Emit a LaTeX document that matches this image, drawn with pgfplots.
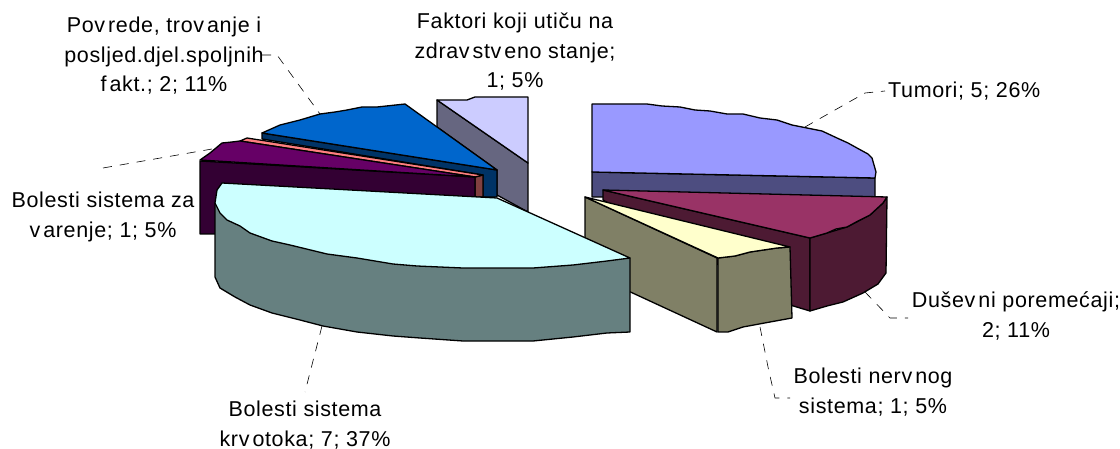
\documentclass[border=0pt]{standalone}
\usepackage{fontspec}
\setmainfont[LetterSpace=3]{Liberation Sans}
\usepackage{pgfplots}
\pgfplotsset{compat=1.18}
\definecolor{tumT}{HTML}{9999FF}
\definecolor{tumS}{HTML}{4D4D80}
\definecolor{marT}{HTML}{993366}
\definecolor{marS}{HTML}{4D1A33}
\definecolor{yelT}{HTML}{FFFFCC}
\definecolor{yelS}{HTML}{808066}
\definecolor{cyaT}{HTML}{CCFFFF}
\definecolor{cyaS}{HTML}{668080}
\definecolor{purT}{HTML}{660066}
\definecolor{purS}{HTML}{330033}
\definecolor{broT}{HTML}{FF8080}
\definecolor{broS}{HTML}{804040}
\definecolor{bluT}{HTML}{0066CC}
\definecolor{bluS}{HTML}{003366}
\definecolor{lavT}{HTML}{CCCCFF}
\definecolor{lavS}{HTML}{666680}
\tikzset{
  lead/.style={draw=black, line width=0.6pt, dash pattern=on 9pt off 8pt},
  lab/.style={font=\fontsize{21.5}{29.5}\selectfont, align=center, text=black, inner sep=0pt},
}
\begin{document}
\begin{tikzpicture}
\begin{axis}[
  scale only axis, width=1120pt, height=449pt,
  xmin=0, xmax=1120, ymin=0, ymax=449, y dir=reverse,
  hide axis, clip=false,
  every axis plot/.append style={draw=black, line width=1.3pt, line join=round, mark=none},
]
% leader lines
\addplot[lead] coordinates {(262,55) (277,55) (320,114)};
\addplot[lead] coordinates {(805,127) (865,93) (885,91)};
\addplot[lead] coordinates {(865,292) (890,318) (908,318)};
\addplot[lead] coordinates {(760,327) (768,367) (775,398) (790,398)};
\addplot[lead] coordinates {(322,326) (305,392)};
\addplot[lead] coordinates {(103,168) (212,149)};
% Faktori koji uticu
\addplot[fill=lavS] coordinates {(437,100) (528,163) (528,212) (497,195) (497,170) (437,127)} -- cycle;
\addplot[fill=lavT] coordinates {(437,100) (467,100) (475,97) (528,97) (528,163)} -- cycle;
% Tumori
\addplot[fill=tumS] coordinates {(592,172) (875,178) (875,197) (592,197)} -- cycle;
\addplot[fill=tumT] coordinates {(592,104) (647,104) (662,106) (680,107) (695,110) (710,111) (727,114) (743,114) (760,118) (777,120) (792,125) (807,128) (822,131) (837,138) (848,143) (857,148) (868,154) (872,158) (876,172) (875,178) (592,172)} -- cycle;
% Povrede
\addplot[fill=bluS] coordinates {(262,133) (497,170) (497,197) (483,197) (483,175) (262,139)} -- cycle;
\addplot[fill=bluT] coordinates {(262,133) (280,125) (300,120) (320,114) (335,112) (347,110) (362,107) (377,107) (405,104) (497,170)} -- cycle;
% varenje
\addplot[fill=broS] coordinates {(475,177) (483,175) (483,197) (475,197)} -- cycle;
\addplot[fill=broT] coordinates {(247,138) (483,175) (475,177) (240,141)} -- cycle;
\addplot[fill=purS] coordinates {(200,161) (475,177) (475,197) (300,210) (215,234) (200,234)} -- cycle;
\addplot[fill=purT] coordinates {(200,160) (210,153) (222,143) (232,142) (240,141) (475,177)} -- cycle;
% Dusevni poremecaji
\addplot[fill=marS] coordinates {(603,190) (810,238) (810,311) (790,305) (603,200)} -- cycle;
\addplot[fill=marS] coordinates {(810,238) (827,233) (847,227) (870,215) (883,203) (887,197) (886,273) (878,284) (863,293) (843,302) (827,306) (810,311)} -- cycle;
\addplot[fill=marT] coordinates {(603,190) (887,197) (883,203) (870,215) (858,221) (847,227) (836,229) (827,233) (810,238)} -- cycle;
% Bolesti nervnog sistema
\addplot[fill=yelS] coordinates {(585,197) (717,258) (717,332) (585,271)} -- cycle;
\addplot[fill=yelS] coordinates {(718,258) (735,256) (750,252) (777,248) (790,247) (792,318) (770,322) (743,327) (728,332) (718,332)} -- cycle;
\addplot[fill=yelT] coordinates {(585,197) (790,247) (777,248) (750,252) (735,256) (718,258)} -- cycle;
% Bolesti sistema krvotoka
\addplot[fill=cyaS] coordinates {(215,203) (215,277) (220,288) (235,297) (250,305) (272,313) (300,320) (323,326) (357,332) (393,336) (420,338) (463,341) (533,341) (573,337) (607,333) (630,332) (630,258)} -- cycle;
\addplot[fill=cyaT] coordinates {(222,183) (217,190) (215,203) (220,213) (227,220) (240,226) (250,233) (272,241) (290,245) (327,254) (357,258) (393,264) (417,266) (463,268) (533,268) (573,265) (607,261) (630,258) (497,198)} -- cycle;
% labels
\node[lab] at (axis cs:164,56) {Pov\kern3pt rede, trov\kern3pt anje i\\posljed.djel.spoljnih\\f\kern3pt akt.; 2; 11\%};
\node[lab] at (axis cs:515,52) {Faktori koji utiču na\\zdrav\kern3pt stv\kern3pt eno stanje;\\1; 5\%};
\node[lab,anchor=west] at (axis cs:888,91) {Tumori; 5; 26\%};
\node[lab] at (axis cs:1016,316) {Dušev\kern3pt ni poremećaji;\\2; 11\%};
\node[lab] at (axis cs:873,392) {Bolesti nerv\kern3pt nog\\sistema; 1; 5\%};
\node[lab] at (axis cs:305,425) {Bolesti sistema\\krv\kern3pt otoka; 7; 37\%};
\node[lab] at (axis cs:103,217) {Bolesti sistema za\\v\kern3pt arenje; 1; 5\%};
\end{axis}
\pgfresetboundingbox
\path[use as bounding box] (0,0) rectangle (1120pt,449pt);
\end{tikzpicture}
\end{document}
